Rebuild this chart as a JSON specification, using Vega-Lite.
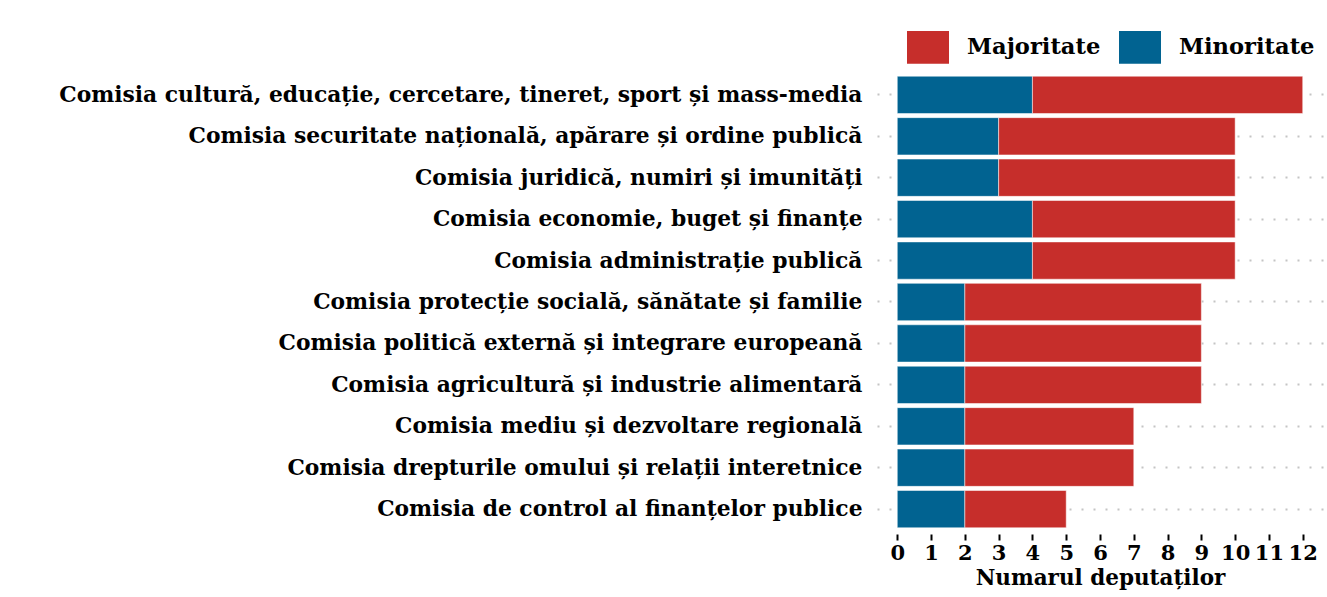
{
  "$schema": "https://vega.github.io/schema/vega-lite/v6.json",
  "autosize": {"type": "none"},
  "padding": {"left": 877, "top": 70, "right": 4, "bottom": 63},
  "width": 446,
  "height": 464,
  "background": "white",
  "config": {
    "view": {"stroke": null},
    "font": "DejaVu Serif"
  },
  "data": {
    "values": [
      {"comisia": "Comisia cultură, educație, cercetare, tineret, sport și mass-media", "grup": "Minoritate", "n": 4},
      {"comisia": "Comisia cultură, educație, cercetare, tineret, sport și mass-media", "grup": "Majoritate", "n": 8},
      {"comisia": "Comisia securitate națională, apărare și ordine publică", "grup": "Minoritate", "n": 3},
      {"comisia": "Comisia securitate națională, apărare și ordine publică", "grup": "Majoritate", "n": 7},
      {"comisia": "Comisia juridică, numiri și imunități", "grup": "Minoritate", "n": 3},
      {"comisia": "Comisia juridică, numiri și imunități", "grup": "Majoritate", "n": 7},
      {"comisia": "Comisia economie, buget și finanțe", "grup": "Minoritate", "n": 4},
      {"comisia": "Comisia economie, buget și finanțe", "grup": "Majoritate", "n": 6},
      {"comisia": "Comisia administrație publică", "grup": "Minoritate", "n": 4},
      {"comisia": "Comisia administrație publică", "grup": "Majoritate", "n": 6},
      {"comisia": "Comisia protecție socială, sănătate și familie", "grup": "Minoritate", "n": 2},
      {"comisia": "Comisia protecție socială, sănătate și familie", "grup": "Majoritate", "n": 7},
      {"comisia": "Comisia politică externă și integrare europeană", "grup": "Minoritate", "n": 2},
      {"comisia": "Comisia politică externă și integrare europeană", "grup": "Majoritate", "n": 7},
      {"comisia": "Comisia agricultură și industrie alimentară", "grup": "Minoritate", "n": 2},
      {"comisia": "Comisia agricultură și industrie alimentară", "grup": "Majoritate", "n": 7},
      {"comisia": "Comisia mediu și dezvoltare regională", "grup": "Minoritate", "n": 2},
      {"comisia": "Comisia mediu și dezvoltare regională", "grup": "Majoritate", "n": 5},
      {"comisia": "Comisia drepturile omului și relații interetnice", "grup": "Minoritate", "n": 2},
      {"comisia": "Comisia drepturile omului și relații interetnice", "grup": "Majoritate", "n": 5},
      {"comisia": "Comisia de control al finanțelor publice", "grup": "Minoritate", "n": 2},
      {"comisia": "Comisia de control al finanțelor publice", "grup": "Majoritate", "n": 3}
    ]
  },
  "mark": {"type": "bar", "stroke": "white", "strokeWidth": 0.5},
  "encoding": {
    "y": {
      "field": "comisia",
      "type": "nominal",
      "sort": [
        "Comisia cultură, educație, cercetare, tineret, sport și mass-media",
        "Comisia securitate națională, apărare și ordine publică",
        "Comisia juridică, numiri și imunități",
        "Comisia economie, buget și finanțe",
        "Comisia administrație publică",
        "Comisia protecție socială, sănătate și familie",
        "Comisia politică externă și integrare europeană",
        "Comisia agricultură și industrie alimentară",
        "Comisia mediu și dezvoltare regională",
        "Comisia drepturile omului și relații interetnice",
        "Comisia de control al finanțelor publice"
      ],
      "scale": {"paddingInner": 0.1, "paddingOuter": 0.15},
      "axis": {
        "title": null,
        "domain": false,
        "ticks": false,
        "labelPadding": 15,
        "labelLimit": 1000,
        "labelFont": "DejaVu Serif",
        "labelFontWeight": "bold",
        "labelFontSize": 21.8,
        "labelColor": "black",
        "grid": true,
        "bandPosition": 0.5,
        "gridColor": "#C4C4C4",
        "gridDash": [2, 10],
        "gridWidth": 2
      }
    },
    "x": {
      "field": "n",
      "type": "quantitative",
      "aggregate": "sum",
      "stack": "zero",
      "scale": {"domain": [-0.6, 12.6], "nice": false, "zero": false},
      "axis": {
        "title": "Numarul deputaților",
        "values": [0, 1, 2, 3, 4, 5, 6, 7, 8, 9, 10, 11, 12],
        "grid": false,
        "domain": false,
        "tickColor": "black",
        "tickWidth": 2,
        "tickSize": 6,
        "labelPadding": 2,
        "labelFont": "DejaVu Serif",
        "labelFontWeight": "bold",
        "labelFontSize": 21,
        "labelColor": "black",
        "labelOverlap": false,
        "titleFont": "DejaVu Serif",
        "titleFontWeight": "bold",
        "titleFontSize": 21.5,
        "titleColor": "black",
        "titlePadding": 4
      }
    },
    "color": {
      "field": "grup",
      "type": "nominal",
      "scale": {"domain": ["Majoritate", "Minoritate"], "range": ["#C62E2B", "#016391"]},
      "legend": {
        "title": null,
        "orient": "none",
        "direction": "horizontal",
        "legendX": 30,
        "legendY": -44,
        "padding": 0,
        "symbolType": "M-1,-0.78L1,-0.78L1,0.78L-1,0.78Z",
        "symbolSize": 1764,
        "symbolStrokeWidth": 0,
        "symbolOpacity": 1,
        "labelFont": "DejaVu Serif",
        "labelFontWeight": "bold",
        "labelFontSize": 22.6,
        "labelColor": "black",
        "labelOffset": 18,
        "columnPadding": 18
      }
    },
    "order": {"field": "grup", "sort": "descending"}
  }
}
